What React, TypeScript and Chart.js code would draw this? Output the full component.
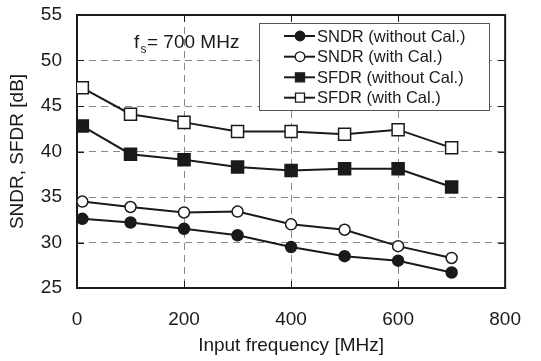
import React, { useEffect, useRef } from "react";
import { Chart, registerables } from "chart.js";

Chart.register(...registerables);

const frequencies = [10, 100, 200, 300, 400, 500, 600, 700];
const sndrWithoutCal = [32.6, 32.2, 31.5, 30.8, 29.5, 28.5, 28.0, 26.7];
const sndrWithCal = [34.5, 33.9, 33.3, 33.4, 32.0, 31.4, 29.6, 28.3];
const sfdrWithoutCal = [42.8, 39.7, 39.1, 38.3, 37.9, 38.1, 38.1, 36.1];
const sfdrWithCal = [47.0, 44.1, 43.2, 42.2, 42.2, 41.9, 42.4, 40.4];

const seriesLabels = [
  "SNDR (without Cal.)",
  "SNDR (with Cal.)",
  "SFDR (without Cal.)",
  "SFDR (with Cal.)",
];
const xTitle = "Input frequency [MHz]";
const yTitle = "SNDR, SFDR [dB]";
const annotationMain = "f";
const annotationSub = "s";
const annotationRest = "= 700 MHz";

const FONT = "'Liberation Sans', Arial, sans-serif";
const INK = "#1a1a1a";

const framePlugin = {
  id: "frame",
  beforeDatasetsDraw(chart: any) {
    const { ctx, chartArea } = chart;
    const { left, right, top, bottom } = chartArea;
    const xs = chart.scales.x;
    const ys = chart.scales.y;
    ctx.save();
    ctx.strokeStyle = INK;
    ctx.lineWidth = 1;
    ctx.setLineDash([]);
    const tl = 7;
    ctx.beginPath();
    xs.ticks.forEach((t: any) => {
      const px = Math.round(xs.getPixelForValue(t.value)) + 0.5;
      if (px <= left + 1 || px >= right - 1) return;
      ctx.moveTo(px, bottom);
      ctx.lineTo(px, bottom - tl);
      ctx.moveTo(px, top);
      ctx.lineTo(px, top + tl);
    });
    ys.ticks.forEach((t: any) => {
      const py = Math.round(ys.getPixelForValue(t.value)) + 0.5;
      if (py <= top + 1 || py >= bottom - 1) return;
      ctx.moveTo(left, py);
      ctx.lineTo(left + tl, py);
      ctx.moveTo(right, py);
      ctx.lineTo(right - tl, py);
    });
    ctx.stroke();
    ctx.lineWidth = 2;
    ctx.strokeRect(left, top, right - left, bottom - top);

    ctx.fillStyle = INK;
    ctx.textBaseline = "alphabetic";
    ctx.textAlign = "left";
    ctx.font = `19px ${FONT}`;
    ctx.fillText(annotationMain, 134, 48);
    ctx.font = `12px ${FONT}`;
    ctx.fillText(annotationSub, 140.5, 53);
    ctx.font = `19px ${FONT}`;
    ctx.fillText(annotationRest, 147, 48);
    ctx.restore();
  },
};

const legendPlugin = {
  id: "boxLegend",
  afterDatasetsDraw(chart: any) {
    const { ctx } = chart;
    const bx = 259.5, by = 23.5, bw = 230, bh = 87;
    ctx.save();
    ctx.fillStyle = "#ffffff";
    ctx.fillRect(bx, by, bw, bh);
    ctx.strokeStyle = "#555555";
    ctx.lineWidth = 1;
    ctx.strokeRect(bx, by, bw, bh);
    const rowY = [36, 56.7, 77.3, 97.7];
    chart.data.datasets.forEach((ds: any, i: number) => {
      const y = rowY[i];
      ctx.strokeStyle = INK;
      ctx.lineWidth = 2;
      ctx.beginPath();
      ctx.moveTo(284, y);
      ctx.lineTo(315, y);
      ctx.stroke();
      ctx.fillStyle = ds.pointBackgroundColor;
      ctx.lineWidth = 1.3;
      ctx.beginPath();
      if (ds.pointStyle === "circle") {
        ctx.arc(300, y, 4.8, 0, Math.PI * 2);
      } else {
        ctx.rect(295.5, y - 4.5, 9, 9);
      }
      ctx.fill();
      ctx.stroke();
      ctx.fillStyle = INK;
      ctx.font = `16.5px ${FONT}`;
      ctx.textBaseline = "middle";
      ctx.textAlign = "left";
      ctx.fillText(ds.label, 317, y + 1);
    });
    ctx.restore();
  },
};

function makeDataset(label: string, values: number[], style: string, fill: string) {
  return {
    label,
    data: values.map((v, i) => ({ x: frequencies[i], y: v })),
    borderColor: INK,
    borderWidth: 2,
    pointStyle: style,
    pointRadius: style === "circle" ? 5.5 : 8.5,
    pointBackgroundColor: fill,
    pointBorderColor: INK,
    pointBorderWidth: 1.5,
    tension: 0,
    showLine: true,
  };
}

export default function App() {
  const ref = useRef<HTMLCanvasElement | null>(null);
  useEffect(() => {
    document.body.style.margin = "0";
    const canvas = ref.current!;
    const chart = new Chart(canvas, {
      type: "line",
      data: {
        datasets: [
          makeDataset(seriesLabels[0], sndrWithoutCal, "circle", INK),
          makeDataset(seriesLabels[1], sndrWithCal, "circle", "#ffffff"),
          makeDataset(seriesLabels[2], sfdrWithoutCal, "rect", INK),
          makeDataset(seriesLabels[3], sfdrWithCal, "rect", "#ffffff"),
        ] as any,
      },
      options: {
        animation: false,
        responsive: false,
        devicePixelRatio: 1,
        layout: { padding: { left: 0, top: 15, right: 18, bottom: 0 } },
        plugins: {
          legend: { display: false },
          tooltip: { enabled: false },
        },
        scales: {
          x: {
            type: "linear",
            min: 0,
            max: 800,
            ticks: {
              stepSize: 200,
              color: INK,
              font: { family: FONT, size: 19 },
              padding: 20,
              maxRotation: 0,
            },
            grid: { color: "#888888", lineWidth: 1, drawTicks: false },
            border: { display: false, dash: [7, 5] },
            title: {
              display: true,
              text: xTitle,
              color: INK,
              font: { family: FONT, size: 19 },
              padding: { top: 0, bottom: 4 },
            },
            afterFit(scale: any) {
              scale.height = 73;
            },
          },
          y: {
            type: "linear",
            min: 25,
            max: 55,
            ticks: {
              stepSize: 5,
              color: INK,
              font: { family: FONT, size: 19 },
              padding: 15,
            },
            grid: { color: "#888888", lineWidth: 1, drawTicks: false },
            border: { display: false, dash: [7, 5] },
            title: {
              display: true,
              text: yTitle,
              color: INK,
              font: { family: FONT, size: 19 },
              padding: { top: 6, bottom: 0 },
            },
            afterFit(scale: any) {
              scale.width = 77;
              scale.paddingTop = 0;
              scale.paddingBottom = 0;
            },
          },
        },
      } as any,
      plugins: [framePlugin, legendPlugin],
    });
    return () => chart.destroy();
  }, []);
  return (
    <div style={{ width: 541, height: 361 }}>
      <canvas ref={ref} width={541} height={361} />
    </div>
  );
}
